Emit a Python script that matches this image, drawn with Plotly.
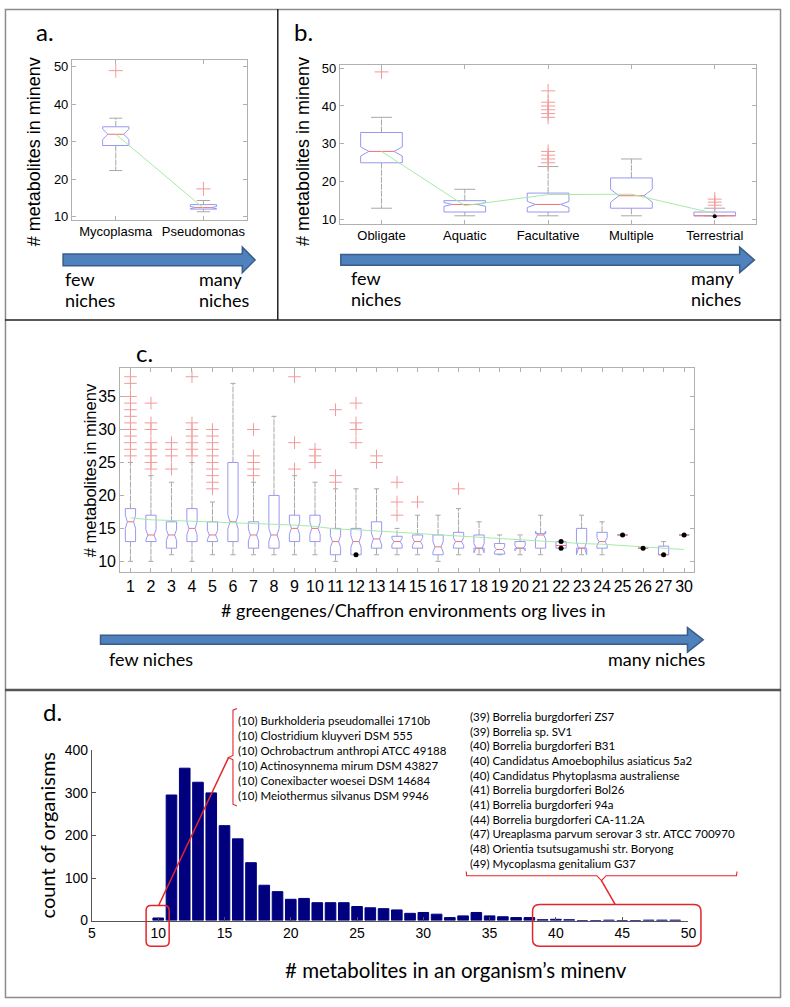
import plotly.graph_objects as go

W, H = 790, 1007

# ---------------- panel a: two genera
a_names = ["Mycoplasma", "Pseudomonas"]
a_q1 = [29, 12]
a_med = [32, 12.4]
a_q3 = [34, 13.2]
a_low = [22.3, 11.3]
a_high = [36.3, 14.3]
a_notch = [1.4, 0.3]
a_outliers = [[49], [17.4]]
a_mean = [32, 12.3]

# ---------------- panel b: lifestyle groups
b_names = ["Obligate", "Aquatic", "Facultative", "Multiple", "Terrestrial"]
b_q1 = [25, 12, 12, 13, 11]
b_med = [28, 14, 14, 16.3, 11]
b_q3 = [33, 15, 17, 21, 12]
b_low = [13, 11, 11, 11, 11]
b_high = [37, 18, 24, 26, 13]
b_notch = [1.2, 0.5, 0.8, 1.7, 0]
b_outliers = [[49], [], [44, 41, 40, 39, 38, 37, 28, 27, 26, 25], [], [15.4, 14.6, 13.8]]
b_mean = [28, 13.7, 16.6, 16.7, 11.6]
b_dot_names = ["Terrestrial"]
b_dot_vals = [10.9]

# ---------------- panel c: number of environments
c_labels = [str(i) for i in range(1, 25)] + ["25", "26", "27", "30"]
c_q1 = [13, 13, 12, 13, 13, 13, 12, 12, 13, 13, 11, 11, 12, 12, 12, 11, 12, 12, 11.1, 12, 12, 12, 12, 12, 14, 12, 11, 14]
c_med = [16, 14, 14, 15, 14, 16, 14, 14, 15, 15, 13, 13, 13.4, 13, 13, 12.2, 13, 12, 11.8, 12, 14, 12.4, 12, 13, 14, 12, 11, 14]
c_q3 = [18, 17, 16, 18, 16, 25, 16, 20, 17, 17, 15, 15, 16, 13.8, 14, 14, 14.4, 14, 12.7, 13, 14.2, 13, 15, 14.4, 14, 12, 12.3, 14]
c_low = [10, 10, 11, 10, 11, 11, 11, 11, 11, 11, 10, 11, 11, 11, 11, 10, 11, 11, 11, 11, 11, 12, 11, 11, 14, 12, 11, 14]
c_high = [25, 23, 22, 25, 19, 37, 22, 32, 23, 22, 21, 21, 21, 15, 17, 17, 18, 16, 14, 14, 17, 13, 17, 16, 14, 12, 13, 14]
c_notch = [1.0, 0.8, 0.8, 1.0, 0.7, 1.1, 0.9, 1.0, 0.9, 0.9, 0.9, 0.9, 0.9, 0.5, 0.6, 0.8, 0.6, 0.7, 0.4, 0.4, 0.6, 0, 1.0, 0.6, 0, 0, 0, 0]
c_outliers = [
    [38, 37, 35, 34, 33, 32, 31, 30, 29, 28, 27, 26],
    [34, 31, 30, 28, 27, 26, 25, 24],
    [28, 27, 26, 24],
    [38, 31, 30, 29, 28, 27, 26],
    [30, 29, 28, 27, 26, 25, 24, 23, 22, 21],
    [],
    [30, 26, 25, 24, 23],
    [],
    [38, 28, 24],
    [27, 26, 25],
    [33, 23, 22],
    [34, 31, 30, 28],
    [26, 25],
    [22, 19, 17],
    [19],
    [],
    [21],
    [], [], [], [], [], [], [], [], [], [], [],
]
c_mean = [16.6, 16.3, 16.2, 16.1, 16.0, 15.9, 15.8, 15.6, 15.5, 15.3, 14.9, 14.8, 14.6, 14.4,
          14.2, 14.0, 13.8, 13.6, 13.4, 13.2, 13.1, 12.9, 12.7, 12.6, 12.4, 12.2, 12.0, 11.8]
c_dot_labels = ["12", "22", "22", "25", "26", "27", "30"]
c_dot_vals = [11, 13, 12, 14, 12, 11, 14]

# ---------------- panel d: histogram
d_bins = list(range(10, 50))
d_counts = [6, 295, 358, 325, 300, 223, 192, 136, 83, 68, 50, 52, 42, 42, 42, 33, 30, 28, 25, 17,
            19, 15, 7, 11, 19, 11, 9, 7, 7, 2, 3, 2, 0, 0, 1, 0, 0, 1, 1, 1]
d_left_list = [
    "(10) Burkholderia pseudomallei 1710b",
    "(10) Clostridium kluyveri DSM 555",
    "(10) Ochrobactrum anthropi ATCC 49188",
    "(10) Actinosynnema mirum DSM 43827",
    "(10) Conexibacter woesei DSM 14684",
    "(10) Meiothermus silvanus DSM 9946",
]
d_right_list = [
    "(39) Borrelia burgdorferi ZS7",
    "(39) Borrelia sp. SV1",
    "(40) Borrelia burgdorferi B31",
    "(40) Candidatus Amoebophilus asiaticus 5a2",
    "(40) Candidatus Phytoplasma australiense",
    "(41) Borrelia burgdorferi Bol26",
    "(41) Borrelia burgdorferi 94a",
    "(44) Borrelia burgdorferi CA-11.2A",
    "(47) Ureaplasma parvum serovar 3 str. ATCC 700970",
    "(48) Orientia tsutsugamushi str. Boryong",
    "(49) Mycoplasma genitalium G37",
]

BOX_BLUE = "#9898f2"
MED_RED = "#f27070"
WHISK = "#a8a8a8"
OUT_RED = "#f39a9a"
MEAN_GREEN = "#a6eaa6"
FRAME = "#b0b0b0"
ARROW_FILL = "#4f81bd"
ARROW_LINE = "#385d8a"
ANNO_RED = "#e3262b"
CAL = "Lato, Open Sans, sans-serif"
ARIAL = "Liberation Sans, Arial, sans-serif"
NARROW = "Liberation Sans Narrow, Liberation Sans, Arial, sans-serif"


def px(x):
    return x / W


def py(y):
    return 1 - y / H


def add_boxes(fig, q1, med, q3, low, high, notch, outliers, width, xa, ya, mark_size=10):
    bx, by, mx, my, wx, wy, cx, cy, ox, oy = [], [], [], [], [], [], [], [], [], []
    for i in range(len(q1)):
        x = i + 1
        h = width / 2
        ins = 0.2 * width if notch[i] > 0 else 0
        nlo, nhi = med[i] - notch[i], med[i] + notch[i]
        bx += [x - h, x - h, x - h + ins, x - h, x - h, x + h, x + h, x + h - ins, x + h, x + h, x - h, None]
        by += [q1[i], nlo, med[i], nhi, q3[i], q3[i], nhi, med[i], nlo, q1[i], q1[i], None]
        mx += [x - h + ins, x + h - ins, None]
        my += [med[i], med[i], None]
        wx += [x, x, None, x, x, None]
        wy += [q3[i], high[i], None, q1[i], low[i], None]
        cx += [x - h / 2, x + h / 2, None, x - h / 2, x + h / 2, None]
        cy += [high[i], high[i], None, low[i], low[i], None]
        ox += [x] * len(outliers[i])
        oy += outliers[i]
    common = dict(xaxis=xa, yaxis=ya, hoverinfo="skip", showlegend=False)
    fig.add_trace(go.Scatter(x=wx, y=wy, mode="lines", line=dict(color=WHISK, width=1, dash="6px,1px"), **common))
    fig.add_trace(go.Scatter(x=cx, y=cy, mode="lines", line=dict(color=WHISK, width=1), **common))
    fig.add_trace(go.Scatter(x=bx, y=by, mode="lines", line=dict(color=BOX_BLUE, width=1), **common))
    fig.add_trace(go.Scatter(x=mx, y=my, mode="lines", line=dict(color=MED_RED, width=1), **common))
    fig.add_trace(go.Scatter(x=ox, y=oy, mode="markers",
                             marker=dict(symbol="cross-thin", size=mark_size, line=dict(color=OUT_RED, width=1)),
                             **common))


def box_axes(x0, x1, y0, y1, n, labels, yrange, ytick, anchor, tick_size, tick_family):
    xa = dict(domain=[px(x0), px(x1)], range=[0.5, n + 0.5], tickvals=list(range(1, n + 1)),
              ticktext=labels, anchor=anchor[1], showline=True, mirror="ticks", linecolor=FRAME,
              linewidth=1, ticks="inside", ticklen=4, tickcolor=FRAME, showgrid=False, zeroline=False,
              tickfont=dict(size=tick_size, family=tick_family, color="black"))
    ya = dict(domain=[py(y1), py(y0)], range=yrange, tickvals=ytick, anchor=anchor[0],
              showline=True, mirror="ticks", linecolor=FRAME, linewidth=1, ticks="inside", ticklen=4,
              tickcolor=FRAME, showgrid=False, zeroline=False,
              tickfont=dict(size=tick_size, family=tick_family, color="black"))
    return xa, ya


fig = go.Figure()

# panel a
add_boxes(fig, a_q1, a_med, a_q3, a_low, a_high, a_notch, a_outliers, 0.3, "x", "y")
fig.add_trace(go.Scatter(x=[1, 2], y=a_mean, mode="lines", line=dict(color=MEAN_GREEN, width=1),
                         xaxis="x", yaxis="y", showlegend=False, hoverinfo="skip"))

# panel b
add_boxes(fig, b_q1, b_med, b_q3, b_low, b_high, b_notch, b_outliers, 0.5, "x2", "y2")
fig.add_trace(go.Scatter(x=list(range(1, 6)), y=b_mean, mode="lines", line=dict(color=MEAN_GREEN, width=1),
                         xaxis="x2", yaxis="y2", showlegend=False, hoverinfo="skip"))
fig.add_trace(go.Scatter(x=[b_names.index(n) + 1 for n in b_dot_names], y=b_dot_vals, mode="markers",
                         marker=dict(color="black", size=4), xaxis="x2", yaxis="y2",
                         showlegend=False, hoverinfo="skip"))

# panel c
add_boxes(fig, c_q1, c_med, c_q3, c_low, c_high, c_notch, c_outliers, 0.5, "x3", "y3", mark_size=9)
fig.add_trace(go.Scatter(x=list(range(1, len(c_labels) + 1)), y=c_mean, mode="lines",
                         line=dict(color=MEAN_GREEN, width=1), xaxis="x3", yaxis="y3",
                         showlegend=False, hoverinfo="skip"))
fig.add_trace(go.Scatter(x=[c_labels.index(l) + 1 for l in c_dot_labels], y=c_dot_vals, mode="markers",
                         marker=dict(color="black", size=5), xaxis="x3", yaxis="y3",
                         showlegend=False, hoverinfo="skip"))

# panel d
fig.add_trace(go.Bar(x=d_bins, y=d_counts, width=0.8, marker=dict(color="#00007f", line=dict(color="#00007f", width=1)),
                     xaxis="x4", yaxis="y4", showlegend=False, hoverinfo="skip"))

xa1, ya1 = box_axes(69, 247, 53, 215, 2, a_names, [9.2, 51.8], [10, 20, 30, 40, 50], ("x", "y"), 13, ARIAL)
xa2, ya2 = box_axes(341, 764, 58, 219, 5, b_names, [8.96, 50.8], [10, 20, 30, 40, 50], ("x2", "y2"), 13, ARIAL)
xa3, ya3 = box_axes(118, 701, 366, 573, len(c_labels), c_labels, [8.4, 39.3], [10, 15, 20, 25, 30, 35],
                    ("x3", "y3"), 16, NARROW)

xa4 = dict(domain=[px(89.3), px(695)], range=[5, 50], tickvals=list(range(5, 51, 5)), anchor="y4",
           showline=True, linecolor="#555555", linewidth=1, ticks="inside", ticklen=4, tickcolor="#555555",
           showgrid=False, zeroline=False, tickfont=dict(size=14, family=ARIAL, color="black"))
ya4 = dict(domain=[py(927.3), py(754.3)], range=[0, 400], tickvals=[0, 100, 200, 300, 400], anchor="x4",
           showline=True, linecolor="#555555", linewidth=1, ticks="inside", ticklen=4, tickcolor="#555555",
           showgrid=False, zeroline=False, tickfont=dict(size=14, family=ARIAL, color="black"))


def label(text, x, y, size, family, xanchor="left", angle=0, color="black"):
    return dict(text=text, x=px(x), y=py(y), xref="paper", yref="paper", showarrow=False,
                xanchor=xanchor, yanchor="middle", textangle=angle,
                font=dict(size=size, family=family, color=color))


annotations = [
    label("a.", 30, 24, 24, CAL),
    label("b.", 292, 24, 24, CAL),
    label("c.", 132, 350, 24, CAL),
    label("d.", 38, 715, 24, CAL),
    label("# metabolites in minenv", 30, 146, 18, ARIAL, "center", -90),
    label("# metabolites in minenv", 303, 146, 18, ARIAL, "center", -90),
    label("# metabolites in minenv", 87, 470, 16.5, ARIAL, "center", -90),
    label("few", 60, 275, 18, CAL),
    label("niches", 60, 297, 18, CAL),
    label("many", 196, 275, 18, CAL),
    label("niches", 196, 297, 18, CAL),
    label("few", 350, 274, 18, CAL),
    label("niches", 350, 296, 18, CAL),
    label("many", 696, 274, 18, CAL),
    label("niches", 696, 296, 18, CAL),
    label("# greengenes/Chaffron environments org lives in", 415, 612, 18, CAL, "center"),
    label("few niches", 105, 662, 18, CAL),
    label("many niches", 715, 662, 18, CAL, "right"),
    label("count of organisms", 43.5, 840, 20, CAL, "center", -90),
    label("# metabolites in an organism\u2019s minenv", 459, 978, 20.5, CAL, "center"),
]
for i, t in enumerate(d_left_list):
    annotations.append(label(t, 236, 724 + i * 15.25, 11.5, CAL))
for i, t in enumerate(d_right_list):
    annotations.append(label(t, 471, 720 + i * 14.9, 11.5, CAL))


def path(points, close=False):
    s = "M " + " L ".join(f"{px(x):.5f},{py(y):.5f}" for x, y in points)
    return s + (" Z" if close else "")


def arrow(x0, x1, xh, yc, shaft, head):
    pts = [(x0, yc - shaft), (xh, yc - shaft), (xh, yc - head), (x1, yc), (xh, yc + head),
           (xh, yc + shaft), (x0, yc + shaft)]
    return dict(type="path", path=path(pts, True), xref="paper", yref="paper",
                fillcolor=ARROW_FILL, line=dict(color=ARROW_LINE, width=1.5))


def rounded(x0, y0, x1, y1, r):
    rx, ry = r / W, r / H
    X0, X1, Y0, Y1 = px(x0), px(x1), py(y0), py(y1)
    p = (f"M {X0 + rx},{Y0} L {X1 - rx},{Y0} Q {X1},{Y0} {X1},{Y0 - ry} L {X1},{Y1 + ry} "
         f"Q {X1},{Y1} {X1 - rx},{Y1} L {X0 + rx},{Y1} Q {X0},{Y1} {X0},{Y1 + ry} "
         f"L {X0},{Y0 - ry} Q {X0},{Y0} {X0 + rx},{Y0} Z")
    return dict(type="path", path=p, xref="paper", yref="paper", line=dict(color=ANNO_RED, width=1.5))


def red_line(points, width=1.3):
    return dict(type="path", path=path(points), xref="paper", yref="paper", line=dict(color=ANNO_RED, width=width))


shapes = [
    dict(type="rect", x0=px(1.5), x1=px(788.5), y0=py(1.5), y1=py(1005.5), xref="paper", yref="paper",
         line=dict(color="#8c8c8c", width=1.5)),
    dict(type="line", x0=px(278), x1=px(278), y0=py(1), y1=py(317), xref="paper", yref="paper",
         line=dict(color="#222222", width=1.5)),
    dict(type="line", x0=px(1), x1=px(789), y0=py(317), y1=py(317), xref="paper", yref="paper",
         line=dict(color="#222222", width=1.5)),
    dict(type="line", x0=px(1), x1=px(789), y0=py(693), y1=py(693), xref="paper", yref="paper",
         line=dict(color="#555555", width=2.5)),
    arrow(60, 255, 242, 256, 6, 13),
    arrow(342, 762, 747, 256, 5.5, 13),
    arrow(98, 710, 694, 642, 4.5, 12.5),
    rounded(144.3, 912, 167.7, 953.3, 5),
    rounded(536.7, 911, 707.7, 953.3, 7),
    red_line([(236.5, 711.7), (232.5, 713.5), (232.5, 759.5), (228, 761.7), (232.5, 764),
              (232.5, 809), (236.5, 811)], 1.1),
    red_line([(228, 761.7), (157, 912)], 1.5),
    red_line([(469.3, 877.5), (469.8, 881.7), (602, 881.7), (606.7, 886.7), (611.4, 881.7),
              (743.8, 881.7), (744.3, 877.5)], 1.1),
    red_line([(606.7, 886.7), (620.7, 911)], 1.5),
]

fig.update_layout(
    width=W, height=H, margin=dict(l=0, r=0, t=0, b=0),
    paper_bgcolor="white", plot_bgcolor="rgba(0,0,0,0)",
    xaxis=xa1, yaxis=ya1, xaxis2=xa2, yaxis2=ya2, xaxis3=xa3, yaxis3=ya3, xaxis4=xa4, yaxis4=ya4,
    annotations=annotations, shapes=shapes, bargap=0.2, showlegend=False,
)

# the page's default body margin would shift the whole figure
fig.write_html("out.html", config={"displayModeBar": False},
               post_script="document.body.style.margin = '0';")
